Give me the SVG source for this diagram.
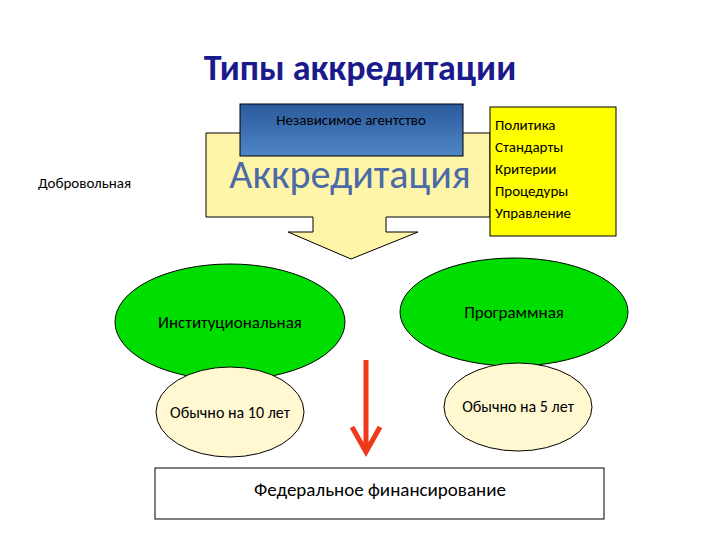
<svg xmlns="http://www.w3.org/2000/svg" width="720" height="540" viewBox="0 0 720 540">
<style>
text{font-family:Calibri,"Liberation Sans",Carlito,sans-serif;fill:#000}
.s{stroke:#000;stroke-width:1}
</style>
<defs>
<linearGradient id="bg" x1="0" y1="0" x2="0" y2="1"><stop offset="0" stop-color="#2a5a9c"/><stop offset="1" stop-color="#4f86c6"/></linearGradient>
</defs>
<rect width="720" height="540" fill="#fff"/>
<text x="360" y="80" text-anchor="middle" font-size="36" font-weight="bold" style="fill:#1a1a8c">Типы аккредитации</text>
<g id="accr">
<path class="s" d="M206,133 H490 V217 H386 V232 H418 L351,259 L288,232 H313 V217 H206 Z" fill="#fff5a8"/>
<text x="350" y="188" text-anchor="middle" font-size="40" style="fill:#4a6aa8">Аккредитация</text>
</g>
<g id="agency"><rect class="s" x="240" y="104" width="223" height="52" fill="url(#bg)"/>
<text x="351" y="125" text-anchor="middle" font-size="15">Независимое агентство</text></g>
<g id="list"><rect class="s" x="490" y="107" width="126" height="129" fill="#ffff00"/>
<text font-size="15"><tspan x="495" y="130">Политика</tspan><tspan x="495" y="152">Стандарты</tspan><tspan x="495" y="174">Критерии</tspan><tspan x="495" y="196">Процедуры</tspan><tspan x="495" y="218">Управление</tspan></text></g>
<g id="vol"><text x="38" y="188" font-size="15">Добровольная</text></g>
<g id="inst"><ellipse class="s" cx="230" cy="322" rx="115" ry="58" fill="#00dd00"/>
<text x="230" y="328" text-anchor="middle" font-size="17">Институциональная</text></g>
<g id="prog"><ellipse class="s" cx="514" cy="312" rx="114" ry="54" fill="#00dd00"/>
<text x="514" y="318" text-anchor="middle" font-size="17">Программная</text></g>
<g id="ten"><ellipse class="s" cx="230" cy="412" rx="74" ry="45" fill="#fff8d0"/>
<text x="230" y="418" text-anchor="middle" font-size="16">Обычно на 10 лет</text></g>
<g id="five"><ellipse class="s" cx="518" cy="407" rx="74" ry="44" fill="#fff8d0"/>
<text x="518" y="412" text-anchor="middle" font-size="16">Обычно на 5 лет</text></g>
<g id="connectors"><path d="M366,360 V448 M352,427 L366,452 L380,427" fill="none" stroke="#ee3a1a" stroke-width="5"/></g>
<g id="fed"><rect class="s" x="155" y="468" width="449" height="51" fill="#fff"/>
<text x="380" y="496" text-anchor="middle" font-size="19">Федеральное финансирование</text></g>
</svg>
